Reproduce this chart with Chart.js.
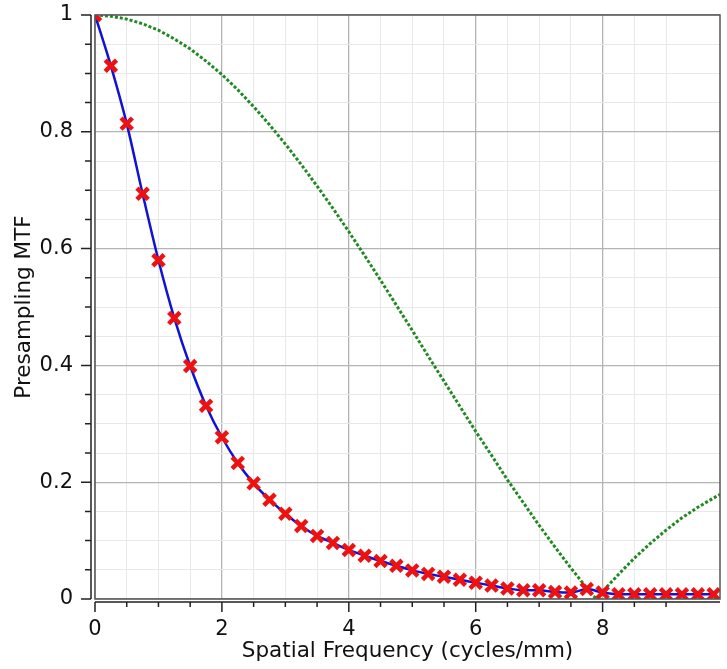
<!DOCTYPE html>
<html>
<head>
<meta charset="utf-8">
<script src="https://cdn.jsdelivr.net/npm/chart.js@4"></script>
<style>
  html, body { margin: 0; padding: 0; background: #fff; overflow: hidden; }
  canvas { display: block; }
</style>
</head>
<body>
<canvas id="chart" width="727" height="669"></canvas>
<script>
// measured presampling MTF (red crosses, every 0.25 cycles/mm)
const freq = [0, 0.25, 0.5, 0.75, 1, 1.25, 1.5, 1.75, 2, 2.25, 2.5, 2.75, 3, 3.25, 3.5, 3.75,
  4, 4.25, 4.5, 4.75, 5, 5.25, 5.5, 5.75, 6, 6.25, 6.5, 6.75, 7, 7.25, 7.5, 7.75,
  8, 8.25, 8.5, 8.75, 9, 9.25, 9.5, 9.75];
const mtf = [1.0, 0.913, 0.814, 0.694, 0.580, 0.481, 0.399, 0.331, 0.277, 0.233, 0.198, 0.170, 0.146, 0.125, 0.108, 0.096,
  0.084, 0.074, 0.065, 0.057, 0.049, 0.043, 0.038, 0.033, 0.028, 0.023, 0.018, 0.015, 0.015, 0.012, 0.011, 0.017,
  0.011, 0.008, 0.008, 0.008, 0.008, 0.008, 0.008, 0.008];

// aperture curve (green dotted)
const apFreq = [0, 0.25, 0.5, 0.75, 1, 1.25, 1.5, 1.75, 2, 2.25, 2.5, 2.75, 3, 3.25, 3.5, 3.75,
  4, 4.25, 4.5, 4.75, 5, 5.25, 5.5, 5.75, 6, 6.25, 6.5, 6.75, 7, 7.25, 7.5, 7.75, 7.9,
  8, 8.25, 8.5, 8.75, 9, 9.25, 9.5, 9.75, 9.85];
const apMtf = [1.0, 0.998, 0.993, 0.985, 0.974, 0.959, 0.942, 0.921, 0.898, 0.872, 0.843, 0.812, 0.779, 0.744, 0.707, 0.669,
  0.629, 0.588, 0.546, 0.503, 0.460, 0.416, 0.373, 0.330, 0.287, 0.246, 0.204, 0.165, 0.126, 0.089, 0.053, 0.019, 0.0,
  0.013, 0.042, 0.070, 0.095, 0.118, 0.139, 0.157, 0.173, 0.179];

const xMax = 9.85;
const FONT = "'DejaVu Sans', sans-serif";

function isMult(v, step) {
  const r = v / step;
  return Math.abs(r - Math.round(r)) < 1e-6;
}

function noPad(scale) {
  scale.paddingTop = 0;
  scale.paddingBottom = 0;
  scale.paddingLeft = 0;
  scale.paddingRight = 0;
}

// axis lines sit a few px off the plot frame, with major + minor tick marks
const axesFrame = {
  id: 'axesFrame',
  afterDraw(chart) {
    const { ctx, chartArea: a, scales } = chart;
    const x = scales.x, y = scales.y;
    const ax = a.left - 4, ay = a.bottom + 3;
    ctx.save();
    ctx.strokeStyle = '#555';
    ctx.lineWidth = 1.5;
    ctx.strokeRect(a.left, a.top, a.right - a.left, a.bottom - a.top);

    ctx.strokeStyle = '#222';
    ctx.lineWidth = 1.5;
    ctx.beginPath();
    ctx.moveTo(ax, a.top);
    ctx.lineTo(ax, a.bottom);
    y.ticks.forEach(t => {
      const py = y.getPixelForValue(t.value);
      const len = isMult(t.value, 0.2) ? 10 : 6;
      ctx.moveTo(ax - len, py);
      ctx.lineTo(ax, py);
    });
    ctx.moveTo(a.left, ay);
    ctx.lineTo(a.right, ay);
    x.ticks.forEach(t => {
      if (!isMult(t.value, 0.5)) return;
      const px = x.getPixelForValue(t.value);
      const len = isMult(t.value, 2) ? 10 : 5;
      ctx.moveTo(px, ay);
      ctx.lineTo(px, ay + len);
    });
    ctx.stroke();
    ctx.restore();
  }
};

new Chart(document.getElementById('chart'), {
  type: 'line',
  data: {
    datasets: [
      {
        label: 'measured',
        data: freq.map((f, i) => ({ x: f, y: mtf[i] })),
        showLine: false,
        pointStyle: 'crossRot',
        pointRadius: 8,
        pointBorderWidth: 4.5,
        pointBorderColor: '#ee1111',
        pointBackgroundColor: '#ee1111',
        clip: 0,
        order: 0
      },
      {
        label: 'fit',
        data: freq.map((f, i) => ({ x: f, y: mtf[i] })),
        borderColor: '#1212d4',
        borderWidth: 2.5,
        pointRadius: 0,
        cubicInterpolationMode: 'monotone',
        clip: 0,
        order: 1
      },
      {
        label: 'aperture',
        data: apFreq.map((f, i) => ({ x: f, y: apMtf[i] })),
        borderColor: '#1f8a1f',
        borderWidth: 3,
        borderDash: [3, 2],
        pointRadius: 0,
        tension: 0,
        clip: 0,
        order: 2
      }
    ]
  },
  options: {
    responsive: false,
    animation: false,
    layout: { autoPadding: false, padding: { left: 0, top: 15, right: 7, bottom: 0 } },
    plugins: { legend: { display: false }, tooltip: { enabled: false } },
    scales: {
      x: {
        type: 'linear',
        min: 0,
        max: xMax,
        afterFit(scale) { scale.height = 70; noPad(scale); },
        border: { display: false },
        grid: {
          drawTicks: false,
          color: ctx => isMult(ctx.tick.value, 2) ? '#b4b4b4' : (isMult(ctx.tick.value, 0.5) ? '#e8e8e8' : 'rgba(0,0,0,0)'),
          lineWidth: ctx => isMult(ctx.tick.value, 2) ? 1.3 : 1
        },
        ticks: {
          stepSize: 0.5,
          autoSkip: false,
          maxRotation: 0,
          padding: 18,
          color: '#111',
          font: { family: FONT, size: 21 },
          callback: v => isMult(v, 2) ? String(Math.round(v)) : ''
        },
        title: {
          display: true,
          text: 'Spatial Frequency (cycles/mm)',
          color: '#111',
          font: { family: FONT, size: 21.5 },
          padding: 5
        }
      },
      y: {
        type: 'linear',
        min: 0,
        max: 1,
        afterFit(scale) { scale.width = 95; noPad(scale); },
        border: { display: false },
        grid: {
          drawTicks: false,
          color: ctx => isMult(ctx.tick.value, 0.2) ? '#b4b4b4' : '#e8e8e8',
          lineWidth: ctx => isMult(ctx.tick.value, 0.2) ? 1.3 : 1
        },
        ticks: {
          stepSize: 0.05,
          autoSkip: false,
          padding: 22,
          color: '#111',
          font: { family: FONT, size: 21 },
          callback: v => isMult(v, 0.2) ? String(Math.round(v * 10) / 10) : ''
        },
        title: {
          display: true,
          text: 'Presampling MTF',
          color: '#111',
          font: { family: FONT, size: 21.5 },
          padding: 12
        }
      }
    }
  },
  plugins: [axesFrame]
});
</script>
</body>
</html>
